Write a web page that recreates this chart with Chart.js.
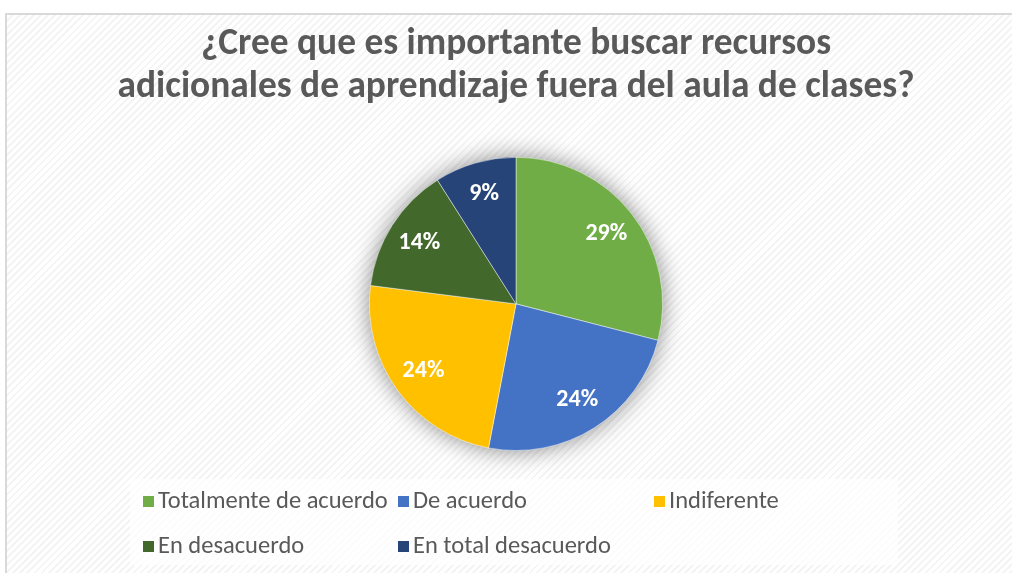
<!DOCTYPE html>
<html>
<head>
<meta charset="utf-8">
<script src="https://cdn.jsdelivr.net/npm/chart.js@4"></script>
<style>
  html, body { margin: 0; padding: 0; background: #ffffff; }
  #frame {
    position: absolute; left: 5px; top: 13px; width: 1012px; height: 570px;
    border-left: 2px solid #d9d9d9; border-top: 2px solid #d9d9d9;
    background: repeating-linear-gradient(135deg, #ffffff 0px, #ffffff 3px, #f4f4f4 3px, #f4f4f4 5px);
  }
  #wrap { position: absolute; left: 0; top: 0; width: 1012px; height: 573px; }
</style>
</head>
<body>
<div id="frame"></div>
<div id="wrap"><canvas id="c" width="1012" height="573"></canvas></div>
<script>
const titleLines = ["¿Cree que es importante buscar recursos", "adicionales de aprendizaje fuera del aula de clases?"];
const categories = ["Totalmente de acuerdo", "De acuerdo", "Indiferente", "En desacuerdo", "En total desacuerdo"];
const values = [29, 24, 24, 14, 9];
const colors = ["#70AD47", "#4472C4", "#FFC000", "#43682B", "#264478"];

const FONT = "Carlito, 'Open Sans', sans-serif";

const shadowPlugin = {
  id: 'pieShadow',
  beforeDatasetsDraw(chart) {
    const arc = chart.getDatasetMeta(0).data[0];
    if (!arc) return;
    const ctx = chart.ctx;
    ctx.save();
    ctx.shadowColor = 'rgba(0,0,0,0.5)';
    ctx.shadowBlur = 24;
    ctx.fillStyle = '#ffffff';
    ctx.beginPath();
    ctx.arc(arc.x, arc.y, arc.outerRadius - 1, 0, Math.PI * 2);
    ctx.fill();
    ctx.restore();
  }
};

const labelPlugin = {
  id: 'sliceLabels',
  afterDatasetsDraw(chart) {
    const meta = chart.getDatasetMeta(0);
    const total = values.reduce((a, b) => a + b, 0);
    const ctx = chart.ctx;
    ctx.save();
    ctx.fillStyle = '#ffffff';
    ctx.font = "bold 24px " + FONT;
    ctx.textAlign = 'center';
    ctx.textBaseline = 'middle';
    meta.data.forEach((arc, i) => {
      const mid = (arc.startAngle + arc.endAngle) / 2;
      const r = arc.outerRadius * 0.78;
      const x = arc.x + Math.cos(mid) * r;
      const y = arc.y + Math.sin(mid) * r;
      ctx.fillText(Math.round(values[i] / total * 100) + '%', x, y);
    });
    ctx.restore();
  }
};

const legendPlugin = {
  id: 'gridLegend',
  afterDraw(chart) {
    const ctx = chart.ctx;
    ctx.save();
    ctx.fillStyle = 'rgba(255,255,255,0.7)';
    ctx.fillRect(130, 479, 768, 86);
    const cols = [143, 398, 654];
    const rows = [501, 546];
    ctx.font = "24.5px " + FONT;
    ctx.textBaseline = 'middle';
    ctx.textAlign = 'left';
    categories.forEach((name, i) => {
      const cx = cols[i % 3];
      const cy = rows[Math.floor(i / 3)];
      ctx.fillStyle = colors[i];
      ctx.fillRect(cx, cy - 5, 11, 11);
      ctx.fillStyle = '#595959';
      ctx.fillText(name, cx + 15, cy + 1);
    });
    ctx.restore();
  }
};

new Chart(document.getElementById('c'), {
  type: 'pie',
  data: {
    labels: categories,
    datasets: [{
      data: values,
      backgroundColor: colors,
      borderColor: 'rgba(255,255,255,0.45)',
      borderWidth: 1
    }]
  },
  options: {
    responsive: false,
    animation: false,
    layout: { padding: { top: 0, bottom: 122, left: 20, right: 0 } },
    plugins: {
      legend: { display: false },
      tooltip: { enabled: false },
      title: {
        display: true,
        text: titleLines,
        color: '#595959',
        font: { family: FONT, size: 37.4, weight: 'bold', lineHeight: 1.16 },
        padding: { top: 23, bottom: 47 }
      }
    }
  },
  plugins: [shadowPlugin, labelPlugin, legendPlugin]
});
</script>
</body>
</html>
